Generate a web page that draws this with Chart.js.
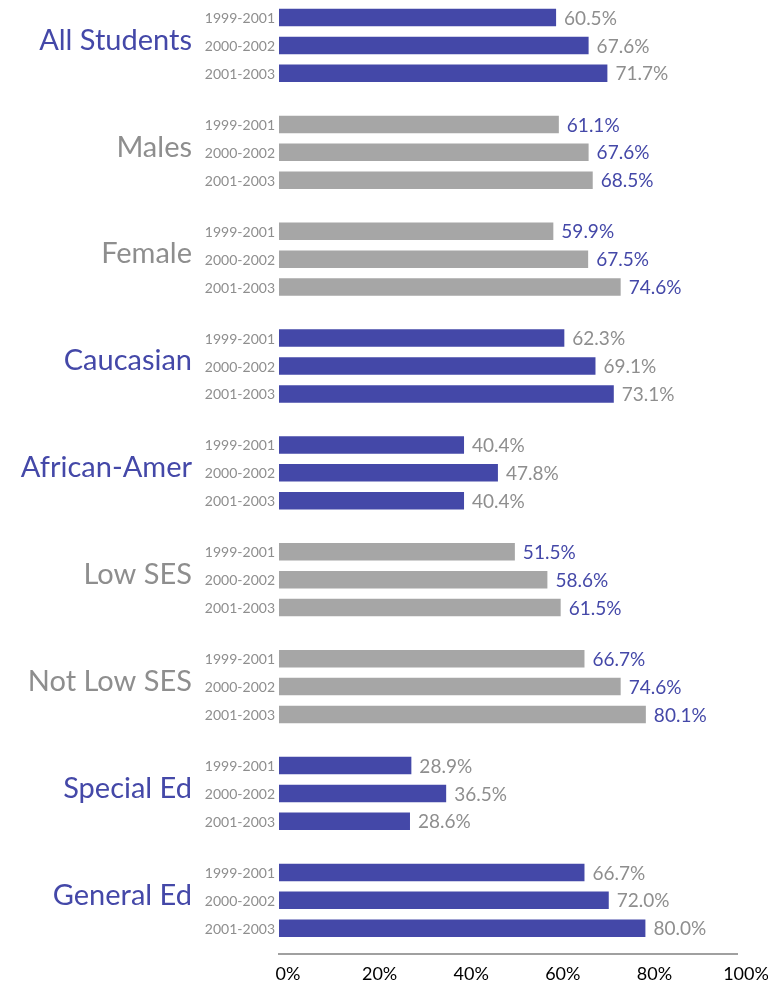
<!DOCTYPE html>
<html>
<head>
<meta charset="utf-8">
<script src="https://cdn.jsdelivr.net/npm/chart.js@4"></script>
<style>
  html, body { margin: 0; padding: 0; background: #fff; overflow: hidden; }
  #chart { position: absolute; left: 0; top: -8px; }
</style>
</head>
<body>
<canvas id="chart" width="768" height="1002"></canvas>
<script>
// Graduation rates by group, three periods

const groups = ["All Students", "Males", "Female", "Caucasian", "African-Amer", "Low SES", "Not Low SES", "Special Ed", "General Ed"];
const periods = ["1999-2001", "2000-2002", "2001-2003"];

const rate1999 = [60.5, 61.1, 59.9, 62.3, 40.4, 51.5, 66.7, 28.9, 66.7];
const rate2000 = [67.6, 67.6, 67.5, 69.1, 47.8, 58.6, 74.6, 36.5, 72.0];
const rate2001 = [71.7, 68.5, 74.6, 73.1, 40.4, 61.5, 80.1, 28.6, 80.0];

const xTicks = [0, 20, 40, 60, 80, 100];

const blue = "#4448a8";
const grey = "#a6a6a6";
const greyText = "#8e8e8e";

// which groups are blue (true) or grey (false)
const groupIsBlue = [true, false, false, true, true, false, false, true, true];

const barColor = ctx => groupIsBlue[ctx.dataIndex] ? blue : grey;

// period names and values next to each bar
const barLabels = {
    id: "barLabels",
    afterDatasetsDraw(chart) {
        const c = chart.ctx;
        c.save();
        c.textBaseline = "middle";
        chart.data.datasets.forEach((ds, di) => {
            const meta = chart.getDatasetMeta(di);
            meta.data.forEach((bar, i) => {
                c.font = "14px Lato";
                c.fillStyle = greyText;
                c.textAlign = "right";
                c.fillText(periods[di], chart.chartArea.left - 4, bar.y + 1);

                c.font = "19px Lato";
                c.fillStyle = groupIsBlue[i] ? greyText : blue;
                c.textAlign = "left";
                c.fillText(ds.data[i].toFixed(1) + "%", bar.x + 8, bar.y + 1);
            });
        });
        c.restore();
    }
};

new Chart(document.getElementById("chart"), {
    type: "bar",
    data: {
        labels: groups,
        datasets: [
            { label: periods[0], data: rate1999, backgroundColor: barColor },
            { label: periods[1], data: rate2000, backgroundColor: barColor },
            { label: periods[2], data: rate2001, backgroundColor: barColor }
        ]
    },
    options: {
        indexAxis: "y",
        responsive: false,
        animation: false,
        categoryPercentage: 0.783,
        barPercentage: 0.627,
        layout: { padding: { left: 0, right: 31, top: 0, bottom: 0 } },
        plugins: {
            legend: { display: false },
            tooltip: { enabled: false }
        },
        scales: {
            x: {
                min: 0,
                max: 100,
                afterBuildTicks: scale => { scale.ticks = xTicks.map(v => ({ value: v })); },
                grid: { display: false, drawTicks: false },
                border: { display: true, color: "#a0a0a0", width: 2 },
                ticks: {
                    callback: v => v + "%",
                    color: "#000",
                    font: { family: "Lato", size: 18, lineHeight: 1.35 },
                    padding: 8,
                    labelOffset: 9,
                    maxRotation: 0
                }
            },
            y: {
                afterFit: scale => {
                    scale.width = 279;
                    scale.paddingTop = 0;
                    scale.paddingBottom = 0;
                },
                grid: { display: false, drawTicks: false },
                border: { display: false },
                ticks: {
                    color: ctx => groupIsBlue[ctx.index] ? blue : greyText,
                    font: { family: "Lato", size: 29 },
                    padding: 87,
                    labelOffset: -5
                }
            }
        }
    },
    plugins: [barLabels]
});
</script>
</body>
</html>
